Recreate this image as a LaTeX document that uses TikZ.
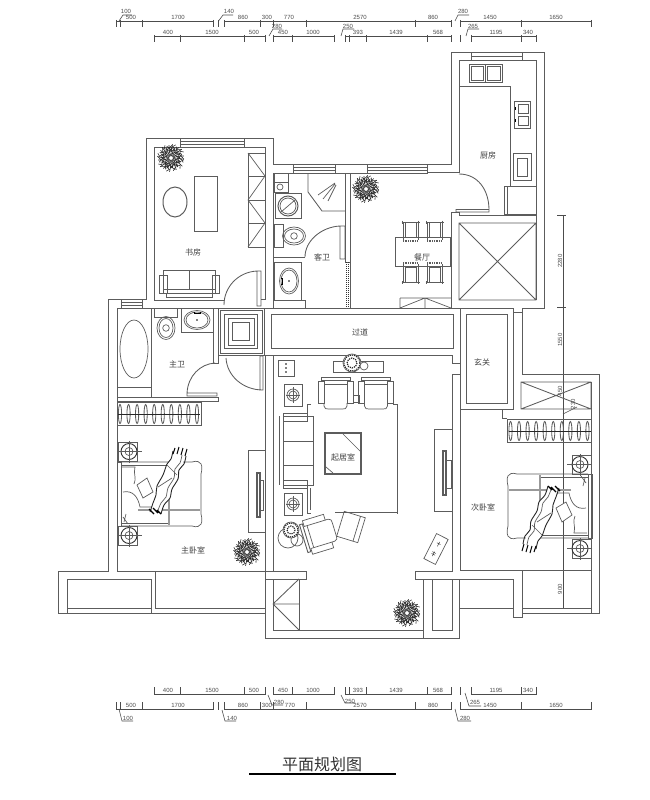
\documentclass[tikz,border=0pt]{standalone}
\usepackage{fontspec}
\setmainfont{Liberation Sans}
\newfontfamily\cjk{Noto Sans CJK SC}
\definecolor{wallgray}{gray}{0.36}
\definecolor{dimgray}{gray}{0.3}
\tikzset{
  wall/.style={draw=wallgray, line width=0.85pt},
  furn/.style={draw=wallgray, line width=0.7pt},
  dimline/.style={draw=dimgray, line width=0.8pt},
  dimtext/.style={font=\fontsize{6}{6}\selectfont, text=dimgray, inner sep=0pt},
  roomtext/.style={font=\cjk\fontsize{8}{8}\selectfont, text=black!75, inner sep=0pt},
  plant/.pic={
    \foreach \a/\r in {0/13,15/10,30/14,45/11,60/13,75/10,90/14,105/11,120/13,135/14,150/10,165/13,180/14,195/10,210/13,225/14,240/11,255/13,270/14,285/10,300/13,315/14,330/11,345/13} {
      \draw[black!85, line width=0.6pt] (\a+14:2) -- (\a:0.5*\r) -- (\a+6:\r);
      \draw[black!85, line width=0.55pt] (\a:0.45*\r) -- (\a+24:0.8*\r) (\a:0.6*\r) -- (\a-20:0.9*\r) (\a+6:0.8*\r) -- (\a+20:\r);
    }
  },
  lampsq/.pic={
    \draw[furn, line width=1pt] (-9,-11) rectangle (9,11);
    \draw[furn] (0,0) circle (6) (0,0) circle (4);
    \draw[furn] (-7,0) -- (7,0) (0,-8) -- (0,8);
  },
  armchair/.pic={
    \draw[furn, line width=0.9pt] (-14.5,-16) rectangle (14.5,-13);
    \draw[furn] (-17.5,-12) rectangle (-11.5,10) (11.5,-12) rectangle (17.5,10);
    \draw[furn] (-11.5,-9) -- (11.5,-9);
    \draw[furn] (-11.5,10) -- (-11.5,13) .. controls (-11.5,16) and (-9,16) .. (-7,16) -- (7,16) .. controls (9,16) and (11.5,16) .. (11.5,13) -- (11.5,10);
  },
  diningchair/.pic={
    \draw[furn] (-9,-10) -- (9,-10) (-8,-11.5) -- (-8,-8.5) (8,-11.5) -- (8,-8.5);
    \draw[furn, line width=0.9pt] (-7.5,-10) -- (-7.5,8) (7.5,-10) -- (7.5,8);
    \draw[furn, line width=0.5pt] (-5.5,-10) -- (-5.5,5) -- (5.5,5) -- (5.5,-10);
    \draw[furn, densely dotted, line width=1.2pt] (-7.5,9) -- (7.5,9);
  },
  toilet/.pic={
    \draw[furn] (-11.5,-19.5) rectangle (11.5,-11);
    \draw[furn] (0,0) circle[x radius=9, y radius=11.5];
    \draw[furn] (0,0) circle[x radius=7, y radius=9.5];
    \draw[furn] (0,0) circle (3.3);
  },
  basin/.pic={
    \draw[furn] (0,0) circle[x radius=13, y radius=9.5];
    \draw[furn] (0,0) circle[x radius=11, y radius=8];
    \fill[black] (0,0) circle (0.8);
    \draw[black, line width=0.8pt] (-3,-8) -- (-3,-6) (3,-8) -- (3,-6) (-3,-7) -- (3,-7);
  },
  bedset/.pic={
    \foreach \cy in {9.5,93.5} {
      \draw[furn] (0,\cy-9.5) rectangle (19,\cy+9.5);
      \draw[black!80, line width=0.9pt] (11,\cy) circle (8);
      \draw[furn] (11,\cy) circle (4);
      \draw[furn] (-1,\cy) -- (24,\cy) (11,\cy-11) -- (11,\cy+11);
    }
    \draw[furn, line width=1pt] (-1,20) rectangle (3,84);
    \draw[furn] (3,20) -- (74,20) .. controls (84,17) and (85,24) .. (83,32) -- (83,72) .. controls (85,80) and (84,87) .. (74,84) -- (3,84);
    \draw[furn] (3,23) -- (50,23) (3,81) -- (50,81);
    \draw[gray!80, line width=2pt] (20,68) -- (82,68) (51,21) -- (51,83);
    \draw[furn] (4,25) -- (17,25) .. controls (15,32) and (19,36) .. (16,42);
    \draw[furn] (5,50) .. controls (15,48) and (20,55) .. (22,65) -- (36,65);
    \draw[furn] (5,75) -- (10,82) (8,72) -- (6,80);
    \fill[white] (55,10) -- (67,14) -- (60,36) -- (52,56) -- (42,71) -- (33,70) -- (38,50) -- (48,24) -- cycle;
    \fill[white] (19,43) -- (29,36) -- (35,50) -- (25,56) -- cycle;
    \draw[furn] (19,43) -- (29,36) -- (35,50) -- (25,56) -- cycle;
    \draw[black!85, line width=0.9pt] plot[smooth] coordinates {(55,9) (53,17) (49,22) (45,33) (39,44) (38,53) (35,61) (32,70)};
    \draw[black!85, line width=0.9pt] plot[smooth] coordinates {(68,14) (66,22) (61,28) (60,37) (54,47) (52,56) (46,63) (43,72)};
    \draw[furn] plot[smooth] coordinates {(64,13) (62,21) (57,27) (56,36) (50,46) (48,55) (43,61) (39,71)};
    \draw[furn] (40,45) -- (54,36) (49,23) -- (59,33);
    \draw[black, line width=1pt] (55,12) -- (57,6) (59,12) -- (61,5) (63,13) -- (65,6) (67,14) -- (69,7);
    \draw[black, line width=1.1pt] (31,67) -- (36,72) (35,66) -- (40,71) (39,68) -- (43,72);
  },
  hangers/.pic={
    \foreach \i in {0,...,9} {
      \draw[furn, line width=0.85pt] (2+8.55*\i,11.5) circle[x radius=1.6, y radius=9.5];
    }
    \draw[black!85, line width=1pt] (0,11.5) -- (82,11.5);
  }
}
\begin{document}
\begin{tikzpicture}[x=1pt, y=-1pt]
\useasboundingbox (0,0) rectangle (649,800);

% dimensions at the top and bottom
\begin{scope}[dimline]
\draw (116,21) -- (120.7,21) (120.7,21) -- (213.7,21) (224,21) -- (451,21) (460,21) -- (591,21);
\draw (154,36) -- (265,36) (273,36) -- (334.5,36) (345,36) -- (451,36) (471,36) -- (536,36);
\draw (116,709) -- (213.7,709) (224,709) -- (451,709) (460,709) -- (591,709);
\draw (154,694) -- (265,694) (273,694) -- (334.5,694) (345,694) -- (451,694) (471,694) -- (536,694);
\foreach \x in {116,120.7,142,213.7,218,224,260,273,306,415,451,460,521,591} {
  \draw (\x,20) -- (\x,27);
  \draw (\x,702) -- (\x,709.5);
}
\foreach \x in {154,180,244,265,273,292.5,334.5,345,349,366,427,451,460,471,521,536} {
  \draw (\x,35) -- (\x,42);
  \draw (\x,687) -- (\x,694.5);
}
\draw[line width=0.6pt] (119,21) -- (123,15) -- (132,15) (218.5,21) -- (223,15) -- (233,15) (455,21) -- (458,15) -- (469,15);
\draw[line width=0.6pt] (269,36) -- (273,29) -- (282,29) (341,36) -- (343,29) -- (354,29) (466,36) -- (468,29) -- (479,29);
\draw[line width=0.6pt] (119,709) -- (122,721) -- (133,721) (222,710) -- (225,721) -- (236,721) (455,709) -- (458,721) -- (471,721);
\draw[line width=0.6pt] (268,695) -- (272,705) -- (283,705) (341,695) -- (345,703) -- (355,703) (465,693) -- (469,706) -- (481,706);
\end{scope}

\foreach \px/\py/\txt [count=\n] in {126/11/100,131/17/500,178/17/1700,229/11/140,243/17/860,267/17/300,289/17/770,360/17/2570,433/17/860,463/11/280,490/17/1450,556/17/1650,
  168/32/400,212/32/1500,254/32/500,277/26/280,283/32/450,313/32/1000,348/26/250,358/32/393,396/32/1439,438/32/568,473/26/265,496/32/1195,528/32/340,
  168/690/400,212/690/1500,254/690/500,279/702/280,283/690/450,313/690/1000,350/701/250,358/690/393,396/690/1439,438/690/568,475/702/265,496/690/1195,528/690/340,
  131/705/500,178/705/1700,243/705/860,267/705/300,290/705/770,360/705/2570,433/705/860,490/705/1450,556/705/1650,128/718/100,232/718/140,465/718/280} {
  \node[dimtext] (dim\n) at (\px,\py) {\txt};
}

% vertical dimension on the right
\draw[dimline] (563,215) -- (563,608);
\foreach \y in {215,307,374,570,608} {
  \draw[dimline, line width=0.6pt] (557,\y) -- (566,\y);
}
\draw[dimline, line width=0.6pt] (563,414) -- (577,407);
\node[dimtext, rotate=90] (dimv1) at (560,261) {2280};
\node[dimtext, rotate=90] (dimv2) at (560,340) {1550};
\node[dimtext, rotate=90] (dimv3) at (560,391) {450};
\node[dimtext, rotate=90] (dimv4) at (573,404) {230};
\node[dimtext, rotate=90] (dimv5) at (560,589) {900};

% outer walls
\draw[wall] (146,138) -- (273,138) -- (273,164) -- (451,164) -- (451,52) -- (544,52) -- (544,308) -- (522,308) -- (522,374) -- (599,374) -- (599,613) -- (591,613);
\draw[wall] (146,138) -- (146,299) -- (108,299) -- (108,571) -- (58,571) -- (58,613) -- (265,613);
\draw[wall] (265,355) -- (265,638) -- (459,638) -- (459,579);
\draw[wall] (522,571) -- (522,617) -- (513,617) -- (513,579) -- (459,579);

% windows
\draw[wall] (180,138) rectangle (244,147);
\draw[wall] (121,299) rectangle (142,308);
\draw[wall] (293,164) rectangle (335,173) (367,164) rectangle (427,173) (335,164) rectangle (367,173);
\draw[wall] (471,52) rectangle (522,60);
\draw[wall, line width=0.6pt] (180,141) -- (244,141) (180,144) -- (244,144) (121,302) -- (142,302) (121,305) -- (142,305);
\draw[wall, line width=0.6pt] (293,167) -- (335,167) (293,170) -- (335,170) (367,167) -- (427,167) (367,170) -- (427,170) (471,56) -- (522,56);

% inner walls
\draw[wall] (180,147) -- (154,147) -- (154,300) -- (224,300);
\draw[wall] (244,147) -- (265,147) -- (265,299) -- (261,299);
\draw[wall] (273,173) -- (273,308) (273,173) -- (293,173) (427,172) -- (459,172) -- (459,60) -- (471,60) (522,60) -- (536,60) -- (536,300);
\draw[wall] (451,212) -- (459,212) -- (459,215) -- (536,215) (451,212) -- (451,308);
\draw[wall] (459,223) rectangle (536,300) (459,223) -- (536,300) (459,300) -- (536,223);
\draw[wall] (142,308) -- (218,308) (264,308) -- (460,308) (265,355) -- (452,355) -- (452,363) -- (460,363);
\draw[wall] (142,299) -- (146,299);
\draw[wall] (273,257) -- (305,257) (273,262) -- (301,262) -- (301,300) -- (305,300) -- (305,308);
\draw[wall] (345,173) -- (345,262) -- (350,262) (350,173) -- (350,308);
\draw[black!80, densely dotted, line width=1pt] (346.5,262) -- (346.5,308) (348.7,262) -- (348.7,308);
\draw[wall] (271,314) rectangle (453,348);
\draw[wall] (218,308) rectangle (264,355);
\foreach \d in {2,6.5,10,14.5} {
  \draw[wall, line width=0.6pt] (218+\d,308+\d) rectangle (264-\d,355-\d);
}
\draw[wall] (117,308) -- (213,308) -- (213,363) -- (218,363) -- (218,355);
\draw[wall] (117,308) -- (117,571) -- (265,571);
\draw[wall] (117,397) -- (218,397) -- (218,401) -- (117,401);
\draw[wall] (117,387) -- (151,387) (151,308) -- (151,397);
\draw[wall] (273,355) -- (273,571) (265,571) -- (306,571) -- (306,579) -- (265,579);
\draw[wall] (273,579) -- (273,630) -- (423,630) (299,579) -- (299,630);
\draw[wall] (273,604) -- (299,579) (273,604) -- (299,630) (273,604) -- (299,604);
\draw[wall] (423,579) -- (423,638) (432,579) rectangle (452,630) (415,571) -- (415,579) -- (459,579);
\draw[wall] (415,571) -- (452,571) -- (452,374) -- (460,374) -- (460,570) -- (591,570);
\draw[wall] (460,308) rectangle (513,409) (466,314) rectangle (507,403);
\draw[wall] (513,312) -- (522,312) (460,409) -- (460,418) (502,409) -- (502,418) -- (507,418);
\draw[wall] (591,382) -- (591,613);
\draw[wall] (521,382) rectangle (591,409) (521,382) -- (591,409) (521,409) -- (591,382);
\draw[wall] (507,419) rectangle (591,442);
\draw[wall] (459,608) -- (513,608) (522,608) -- (591,608);
\draw[wall] (67,613) -- (67,579) -- (151,579) -- (151,613) (67,608) -- (151,608) (155,571) -- (155,608) -- (265,608);
\draw[wall] (522,613) -- (591,613);

% doors
\draw[wall] (456,209.5) rectangle (489,212) (459,174) .. controls (478,174) and (489,190) .. (489,210);
\draw[wall] (257,271) rectangle (261,306) (257,271) .. controls (238,272) and (224,287) .. (224,305);
\draw[wall] (340,226) rectangle (345,259) (340,226) .. controls (321,227) and (305,241) .. (305,257);
\draw[wall] (187,393) rectangle (217,396) (187,393) .. controls (188,376) and (200,364) .. (215,363);
\draw[wall] (260,356) rectangle (263,390) (226,358) .. controls (227,376) and (243,390) .. (263,390);

% study
\draw[furn] (194,176) rectangle (217,231);
\draw[furn, line width=1pt] (175,202) circle[x radius=12, y radius=15];
\draw[furn] (248,153) rectangle (265,247);
\foreach \y in {176,200,223} {
  \draw[furn] (248,\y) -- (265,\y);
}
\draw[furn] (248,153) -- (265,176) -- (248,200) -- (265,223) -- (248,247);
\draw[furn] (163,270) rectangle (215,293) (189,270) -- (189,289) (163,289) -- (215,289) (166,293) -- (166,297) -- (212,297) -- (212,293);
\draw[furn] (159,275) rectangle (167,293) (212,275) rectangle (219,293);

% guest bath
\draw[furn] (274,173) rectangle (288,192) (274,182) -- (288,182);
\draw[furn] (280,187) circle (3);
\draw[furn] (275,193) rectangle (301,218);
\draw[furn, line width=1pt] (288,206) circle (10);
\draw[furn] (288,206) circle (8) (281,212) -- (295,200);
\draw[wall] (308,173) -- (308,192) -- (322,211) -- (345,211);
\draw[furn] (318,195) -- (335,183) (323,199) -- (335,184) (328,201) -- (336,185);
\pic at (294,236) [rotate=90] {toilet};
\draw[furn] (274,262) -- (274,300);
\pic at (289,281) [rotate=90] {basin};
\draw[wall] (274,300) -- (301,300);

% master bath
\pic at (166,328) {toilet};
\draw[furn] (181,308) rectangle (213,332);
\pic at (197,320) {basin};
\draw[furn] (134,349) circle[x radius=14, y radius=29];

% kitchen
\draw[wall] (459,86) -- (510,86) -- (510,186);
\draw[furn] (469,64) rectangle (502,82) (485,64) -- (485,82);
\draw[furn, line width=0.5pt] (471,66) rectangle (483,80) (487,66) rectangle (500,80);
\draw[furn] (514,101) rectangle (530,128) (518,104) rectangle (528,113) (518,116) rectangle (528,125);
\draw[black, line width=1pt] (515,107) -- (515,110) (515,119) -- (515,122);
\draw[furn] (513,153) rectangle (531,180) (517,158) rectangle (527,176);
\draw[furn, line width=1pt] (504,186) rectangle (536,214);
\draw[furn] (507,186) -- (507,214);

% dining
\draw[furn, line width=1pt] (395,237) rectangle (450,266);
\foreach \cx in {410.5,434.5} {
  \pic at (\cx,232) {diningchair};
  \pic at (\cx,272) [yscale=-1] {diningchair};
}
\draw[furn] (400,298) -- (451,298) (400,298) -- (400,308) (400,308) -- (425,298) -- (451,308) (425,298) -- (425,308);

% master bedroom
\pic at (118,402.5) {hangers};
\draw[furn] (117,402) rectangle (201,425);
\pic at (118,442) {bedset};
\draw[wall] (248,450) rectangle (265,532);
\draw[furn, line width=1.1pt] (257,473) rectangle (260,517);
\draw[furn] (260,480) rectangle (263,510);

% living room
\draw[furn] (333,361) rectangle (383,372);
\fill[white] (352,363) circle (9);
\draw[black!85, densely dotted, line width=1.2pt] (352,363) circle (8) (352,363) circle (5);
\draw[furn] (352,363) circle (9);
\fill[white] (364,366) circle (4);
\draw[furn] (364,366) circle (4);
\draw[furn] (278,360) rectangle (294,376);
\foreach \y in {364,368,372} {
  \fill[black] (286,\y) circle (0.9);
}
\pic at (293,395) {lampsq};
\pic at (293,504) {lampsq};
\pic at (335.5,393) {armchair};
\pic at (376,393) {armchair};
\draw[furn] (353,395) rectangle (359,402);
\draw[furn] (311,404) -- (307,404) -- (307,413) (393,404) -- (397,404) -- (397,514);
\draw[furn] (335,512) -- (398,512) (307,487) -- (307,513) (307,513) -- (311,513) (310,488) -- (310,510);
\draw[furn] (279,416) -- (279,485) (283,416) rectangle (313,485);
\draw[furn, line width=0.9pt] (283,413) rectangle (307,421) (283,480) rectangle (307,488);
\draw[furn] (283,441) -- (313,441) (283,465) -- (313,465);
\draw[furn, line width=1.1pt] (325,433) rectangle (361,474);
\draw[furn] (343,434) -- (360,451) (326,467) -- (333,473);
\pic at (319,534) [rotate=107] {armchair};
\begin{scope}[shift={(351,527)}, rotate=-17]
\draw[furn] (-11,-13) rectangle (11,13) (6,-13) -- (6,13);
\end{scope}
\draw[furn] (288,538) circle (10) (297,540) circle (6);
\fill[white] (291,530) circle (8);
\draw[black!85, densely dotted, line width=1.2pt] (291,530) circle (7) (291,530) circle (4);
\draw[furn] (291,530) circle (8);
\draw[wall] (434,429) rectangle (452,511);
\draw[furn, line width=1.1pt] (443,451) rectangle (446,495);
\draw[furn] (446,460) rectangle (451,488);
\begin{scope}[shift={(436,549)}, rotate=-27]
\draw[furn] (-6.5,-14) rectangle (6.5,14);
\draw[black!80] (-2,-6) -- (2,-6) (0,-8) -- (0,-3) (-2,4) -- (2,4) (-2,6) -- (2,6) (0,3) -- (0,8);
\end{scope}

% second bedroom
\pic at (508.5,419.5) {hangers};
\pic at (591,558) [rotate=180] {bedset};

% plants
\foreach \ptx/\pty in {171/158,366/189,247/552,407/613} {
  \pic at (\ptx,\pty) {plant};
}

% room names
\node[roomtext] (study) at (193,252) {书房};
\node[roomtext] (guestbath) at (322,257) {客卫};
\node[roomtext] (dining) at (422,257) {餐厅};
\node[roomtext] (kitchen) at (488,155) {厨房};
\node[roomtext] (passage) at (360,332) {过道};
\node[roomtext] (foyer) at (482,362) {玄关};
\node[roomtext] (masterbath) at (177,364) {主卫};
\node[roomtext] (living) at (343,457) {起居室};
\node[roomtext] (masterbed) at (193,550) {主卧室};
\node[roomtext] (secondbed) at (483,507) {次卧室};

% title
\node[font=\cjk\fontsize{16}{16}\selectfont, text=black!80, inner sep=0pt] (title) at (322,764) {平面规划图};
\draw[black, line width=1.8pt] (249,774) -- (396,774);
\end{tikzpicture}
\end{document}
